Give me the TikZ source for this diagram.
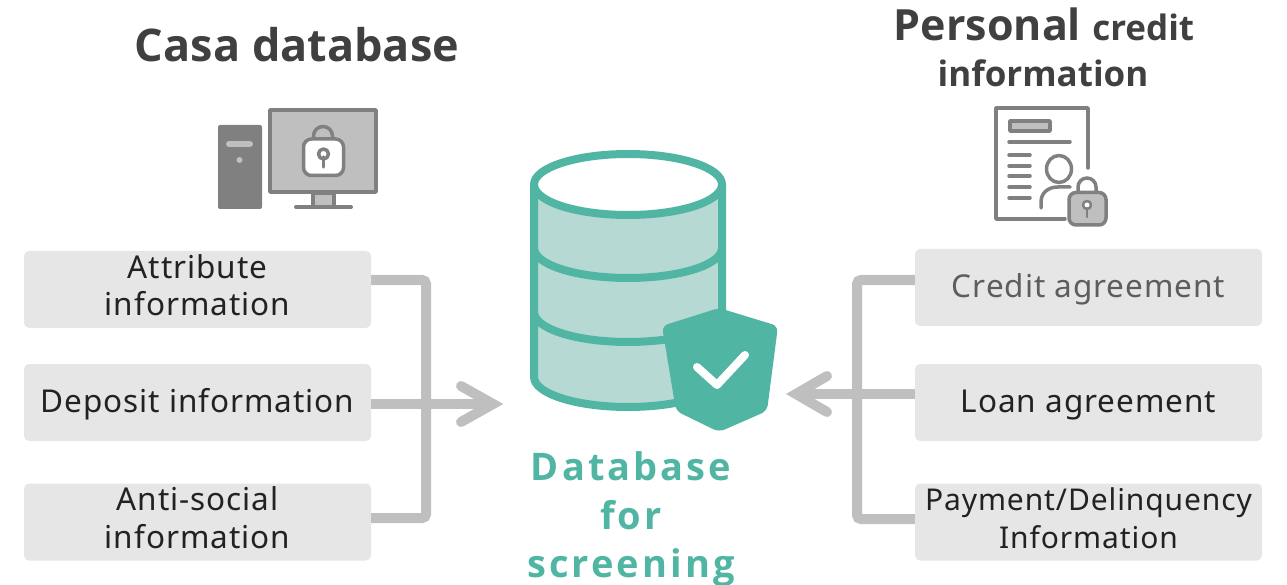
\documentclass[tikz,border=0pt]{standalone}
\usepackage{fontspec}
\setmainfont{Noto Sans}
\newfontfamily\lab[LetterSpace=3]{Noto Sans}
\newfontfamily\ttl{Open Sans}
\newfontfamily\grn[LetterSpace=8]{Open Sans}
\definecolor{teal1}{HTML}{50B6A3}
\definecolor{teal2}{HTML}{B6D9D3}
\definecolor{boxg}{HTML}{E6E6E6}
\definecolor{conn}{HTML}{BFBFBF}
\definecolor{icon}{HTML}{808080}
\definecolor{ink}{HTML}{222222}
\definecolor{head}{HTML}{404040}
\tikzset{
 x=1pt,y=-1pt,
 infobox/.style={fill=boxg,rounded corners=5pt,minimum width=347pt,minimum height=77pt,inner sep=0pt,align=center,text=ink,font=\lab\fontsize{31.5}{37}\selectfont},
 connector/.style={draw=conn,line width=10pt,rounded corners=4pt},
 arrowline/.style={draw=conn,line width=10pt},
 arrowhead/.style={draw=conn,line width=10pt,line cap=round,miter limit=10},
 titletext/.style={text=head,inner sep=0pt,align=center,anchor=base},
 greentext/.style={text=teal1,inner sep=0pt,anchor=base,font=\grn\bfseries\fontsize{38}{38}\selectfont},
 iconline/.style={draw=icon,line width=3.5pt,line cap=round,line join=round},
}
\begin{document}
\begin{tikzpicture}
\useasboundingbox (0,0) rectangle (1287,585);
% boxes
\node[infobox] (l1) at (197.5,289.5) {\raisebox{3pt}{\begin{tabular}{@{}c@{}}Attribute\\[-0.5pt]information\end{tabular}}};
\node[infobox] (l2) at (197.5,402.5) {\raisebox{-9.5pt}[0pt][0pt]{Deposit information}};
\node[infobox] (l3) at (197.5,522) {\raisebox{2pt}{\begin{tabular}{@{}c@{}}Anti-social\\[0.5pt]information\end{tabular}}};
\node[infobox] (r1) at (1088.5,287.5) {\raisebox{-9.5pt}[0pt][0pt]{\textcolor{head!85}{Credit agreement}}};
\node[infobox] (r2) at (1088.5,402.5) {\raisebox{-9.5pt}[0pt][0pt]{Loan agreement}};
\node[infobox,font=\lab\fontsize{30}{38}\selectfont] (r3) at (1088.5,522) {\raisebox{-6pt}[0pt][0pt]{\begin{tabular}{@{}c@{}}Payment/Delinquency\\[0pt]Information\end{tabular}}};
% connectors
\coordinate (lv) at (426,280);
\coordinate (lb) at (426,518);
\coordinate (ltip) at (493,404);
\coordinate (lw1) at (461,386);
\coordinate (lw2) at (461,422);
\coordinate (rv) at (857,280);
\coordinate (rb) at (857,519);
\coordinate (rtip) at (796,394);
\coordinate (rw1) at (827,376);
\coordinate (rw2) at (827,412);
\draw[connector] (l1.east |- lv) -- (lv) -- (lb) -- (l3.east |- lb);
\draw[arrowline] (l2.east |- ltip) -- (ltip);
\draw[arrowhead] (lw1) -- (ltip) -- (lw2);
\draw[connector] (r1.west |- rv) -- (rv) -- (rb) -- (r3.west |- rb);
\draw[arrowline] (r2.west |- rtip) -- (rtip);
\draw[arrowhead] (rw1) -- (rtip) -- (rw2);
% database
\fill[teal2] (534,184) -- (534,377) arc[start angle=180,end angle=0,x radius=94,y radius=30] -- (722,184) -- cycle;
\draw[teal1,line width=8pt,line join=round] (534,184) -- (534,377) arc[start angle=180,end angle=0,x radius=94,y radius=30] -- (722,184);
\draw[teal1,line width=8pt] (534,248) arc[start angle=180,end angle=0,x radius=94,y radius=30];
\draw[teal1,line width=8pt] (534,312) arc[start angle=180,end angle=0,x radius=94,y radius=30];
\draw[teal1,line width=8pt,fill=white] (628,184.5) ellipse[x radius=94,y radius=30.5];
% shield
\fill[teal1,rounded corners=6pt] (719,308) -- (778,326) -- (767,411) -- (719,432) -- (676,411) -- (662,326) -- cycle;
\draw[white,line width=8pt,line cap=round,line join=round] (697,367) -- (717,385) -- (745,355);
% computer
\fill[icon,rounded corners=2pt] (218,125) rectangle (262,209);
\draw[conn,line width=6pt,line cap=round] (229,144) -- (250,144);
\fill[conn] (239.5,160) circle[radius=3];
\draw[iconline,fill=conn] (270,110) rectangle (376,192);
\draw[iconline,fill=conn] (313,193) rectangle (334,207);
\draw[icon,line width=4pt,line cap=round] (296,207) -- (351,207);
\draw[icon,line width=3.5pt] (313.5,139) -- (313.5,136) arc[start angle=180,end angle=360,radius=9.5] -- (332.5,139);
\draw[icon,line width=3.5pt,fill=white,rounded corners=8pt] (303.5,139) rectangle (343.5,175.5);
\draw[iconline,fill=white] (323.5,154) circle[radius=5];
\draw[iconline] (323.5,157) -- (323.5,167);
% document
\draw[iconline] (1065,219) -- (996,219) -- (996,108) -- (1088,108) -- (1088,168);
\draw[iconline,fill=conn] (1010,121) rectangle (1050,131);
\draw[iconline] (1009,142) -- (1070,142);
\foreach \yy in {155,166,176,187,198} \draw[iconline] (1009,\yy) -- (1030,\yy);
\draw[iconline] (1059,169) ellipse[x radius=12.5,y radius=13.5];
\draw[iconline] (1041,208) -- (1041,202) .. controls (1041,193) and (1048,187) .. (1058,187) -- (1070,187);
\draw[icon,line width=3.5pt] (1078,193) -- (1078,187) arc[start angle=180,end angle=360,radius=9] -- (1096,193);
\draw[icon,line width=3.5pt,fill=conn,rounded corners=7pt] (1069,192.5) rectangle (1106,225);
\draw[iconline,fill=white,line width=2.5pt] (1087,205) circle[radius=4];
\draw[iconline,line width=2.5pt] (1087,208) -- (1087,217);
% titles
\node[titletext,font=\ttl\bfseries\fontsize{45}{45}\selectfont] (t1) at (297,62) {Casa database};
\node[titletext] (t2) at (1044,41) {\ttl\bfseries\fontsize{43}{43}\selectfont Personal \fontsize{35}{35}\selectfont credit};
\node[titletext,font=\ttl\bfseries\fontsize{35}{35}\selectfont] (t3) at (1043,87) {information};
% caption
\node[greentext] (g1) at (631,480) {Database};
\node[greentext] (g2) at (631,529) {for};
\node[greentext] (g3) at (631,577) {screening};
\end{tikzpicture}
\end{document}
